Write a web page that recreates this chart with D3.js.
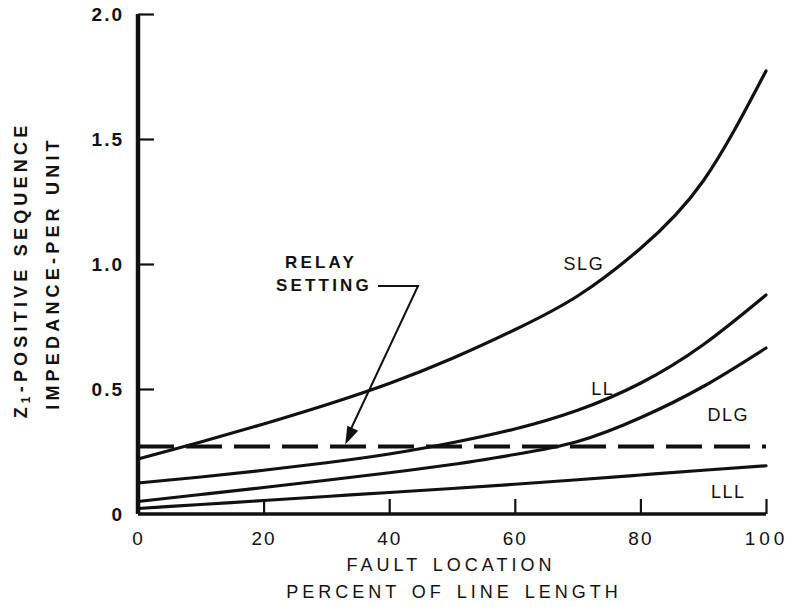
<!DOCTYPE html>
<html>
<head>
<meta charset="utf-8">
<script src="https://cdn.jsdelivr.net/npm/d3@7"></script>
<style>
  html, body { margin: 0; padding: 0; background: #fff; }
  svg { display: block; }
  text { font-family: "Liberation Sans", Arial, sans-serif; fill: #111; }
</style>
</head>
<body>
<svg id="chart" width="792" height="607"></svg>
<script>
// ---- data ----
const faultLocation = [0, 10, 20, 30, 40, 50, 60, 70, 80, 90, 100];
const slg = [0.22, 0.288, 0.36, 0.437, 0.522, 0.622, 0.737, 0.872, 1.062, 1.332, 1.772];
const ll  = [0.124, 0.148, 0.175, 0.205, 0.24, 0.285, 0.34, 0.415, 0.523, 0.677, 0.876];
const dlg = [0.05, 0.078, 0.106, 0.135, 0.165, 0.198, 0.238, 0.29, 0.385, 0.51, 0.664];
const lll = [0.022, 0.038, 0.054, 0.07, 0.086, 0.102, 0.119, 0.137, 0.156, 0.175, 0.193];
const relaySetting = 0.27;
const seriesNames = ["SLG", "LL", "DLG", "LLL"];
const seriesLabelAt = [[71, 1.0], [74, 0.5], [94, 0.395], [94, 0.09]];
const xTicks = [0, 20, 40, 60, 80, 100];
const xTickLabels = ["0", "20", "40", "60", "80", "100"];
const yTicks = [0, 0.5, 1.0, 1.5, 2.0];
const yTickLabels = ["0", "0.5", "1.0", "1.5", "2.0"];

// ---- drawing ----
const svg = d3.select("#chart");
const x = d3.scaleLinear().domain([0, 100]).range([138, 766]);
const y = d3.scaleLinear().domain([0, 2]).range([514, 14]);
const ink = "#111";

// curves
const allSeries = [slg, ll, dlg, lll];
const line = d3.line()
  .x((d, i) => x(faultLocation[i]))
  .y(d => y(d))
  .curve(d3.curveNatural);
svg.append("g").selectAll("path").data(allSeries).join("path")
  .attr("d", line)
  .attr("fill", "none")
  .attr("stroke", ink)
  .attr("stroke-width", 3.2)
  .attr("stroke-linecap", "round");

// relay setting dashed line
svg.append("line")
  .attr("x1", x(0)).attr("x2", x(100))
  .attr("y1", y(relaySetting)).attr("y2", y(relaySetting))
  .attr("stroke", ink).attr("stroke-width", 4)
  .attr("stroke-dasharray", "36,12");

// axes
const xAxis = d3.axisBottom(x).tickValues(xTicks).tickSize(-15).tickPadding(18)
  .tickFormat((d, i) => xTickLabels[i]);
const gx = svg.append("g").attr("transform", `translate(0,${y(0)})`).call(xAxis);
gx.select(".domain").attr("stroke", ink).attr("stroke-width", 3.5).attr("d", `M${x(0)},0H${x(100)}`);
gx.selectAll(".tick line").attr("stroke", ink).attr("stroke-width", 2.2);
gx.selectAll(".tick").filter(d => d === 0).select("line").remove();
gx.selectAll(".tick text").attr("font-size", 19).attr("fill", ink)
  .attr("letter-spacing", d => d === 100 ? 4 : 2).attr("font-family", "Liberation Sans, Arial, sans-serif");

const yAxis = d3.axisLeft(y).tickValues(yTicks).tickSize(-16).tickPadding(14)
  .tickFormat((d, i) => yTickLabels[i]);
const gy = svg.append("g").attr("transform", `translate(${x(0)},0)`).call(yAxis);
gy.select(".domain").attr("stroke", ink).attr("stroke-width", 4.5).attr("d", `M0,${y(0)}V${y(2)}`);
gy.selectAll(".tick line").attr("stroke", ink).attr("stroke-width", 2.2);
gy.selectAll(".tick").filter(d => d === 0).select("line").remove();
gy.selectAll(".tick text").attr("font-size", 19).attr("fill", ink)
  .attr("letter-spacing", 2).attr("font-weight", "bold").attr("font-family", "Liberation Sans, Arial, sans-serif");

// series labels
svg.append("g").selectAll("text").data(seriesNames).join("text")
  .attr("x", (d, i) => x(seriesLabelAt[i][0]))
  .attr("y", (d, i) => y(seriesLabelAt[i][1]))
  .attr("text-anchor", "middle")
  .attr("dominant-baseline", "central")
  .attr("font-size", 18)
  .attr("letter-spacing", 1.5)
  .text(d => d);

// relay setting annotation
const ann = svg.append("g");
ann.append("text").attr("x", 321).attr("y", 262).attr("text-anchor", "middle")
  .attr("dominant-baseline", "central").attr("font-size", 17).attr("font-weight", "bold")
  .attr("letter-spacing", 3.2).text("RELAY");
ann.append("text").attr("x", 324).attr("y", 285).attr("text-anchor", "middle")
  .attr("dominant-baseline", "central").attr("font-size", 17).attr("font-weight", "bold")
  .attr("letter-spacing", 3.2).text("SETTING");
const tipX = x(33), tipY = y(relaySetting) - 2;
ann.append("path")
  .attr("d", `M378,286H418L${tipX + 5},${tipY - 14}`)
  .attr("fill", "none").attr("stroke", ink).attr("stroke-width", 2);
// arrowhead
const dx = tipX - 418, dy = tipY - 286, len = Math.hypot(dx, dy);
const ux = dx / len, uy = dy / len;
const bx = tipX - ux * 18, by = tipY - uy * 18;
ann.append("path")
  .attr("d", `M${tipX},${tipY}L${bx - uy * 6},${by + ux * 6}L${bx + uy * 6},${by - ux * 6}Z`)
  .attr("fill", ink);

// axis titles
svg.append("text").attr("x", 451).attr("y", 565).attr("text-anchor", "middle")
  .attr("dominant-baseline", "central").attr("font-size", 18).attr("letter-spacing", 4)
  .attr("word-spacing", 3).text("FAULT LOCATION");
svg.append("text").attr("x", 454).attr("y", 592).attr("text-anchor", "middle")
  .attr("dominant-baseline", "central").attr("font-size", 18).attr("letter-spacing", 4)
  .attr("word-spacing", 3).text("PERCENT OF LINE LENGTH");

const yt1 = svg.append("text").attr("transform", "translate(21,270) rotate(-90)")
  .attr("text-anchor", "middle").attr("dominant-baseline", "central")
  .attr("font-size", 18).attr("font-weight", "bold").attr("letter-spacing", 4.2);
yt1.append("tspan").text("Z");
yt1.append("tspan").attr("font-size", 12).attr("dy", 5).text("1");
yt1.append("tspan").attr("dy", -5).text("-POSITIVE SEQUENCE");
svg.append("text").attr("transform", "translate(53,273) rotate(-90)")
  .attr("text-anchor", "middle").attr("dominant-baseline", "central")
  .attr("font-size", 18).attr("font-weight", "bold").attr("letter-spacing", 4.2)
  .text("IMPEDANCE-PER UNIT");
</script>
</body>
</html>
